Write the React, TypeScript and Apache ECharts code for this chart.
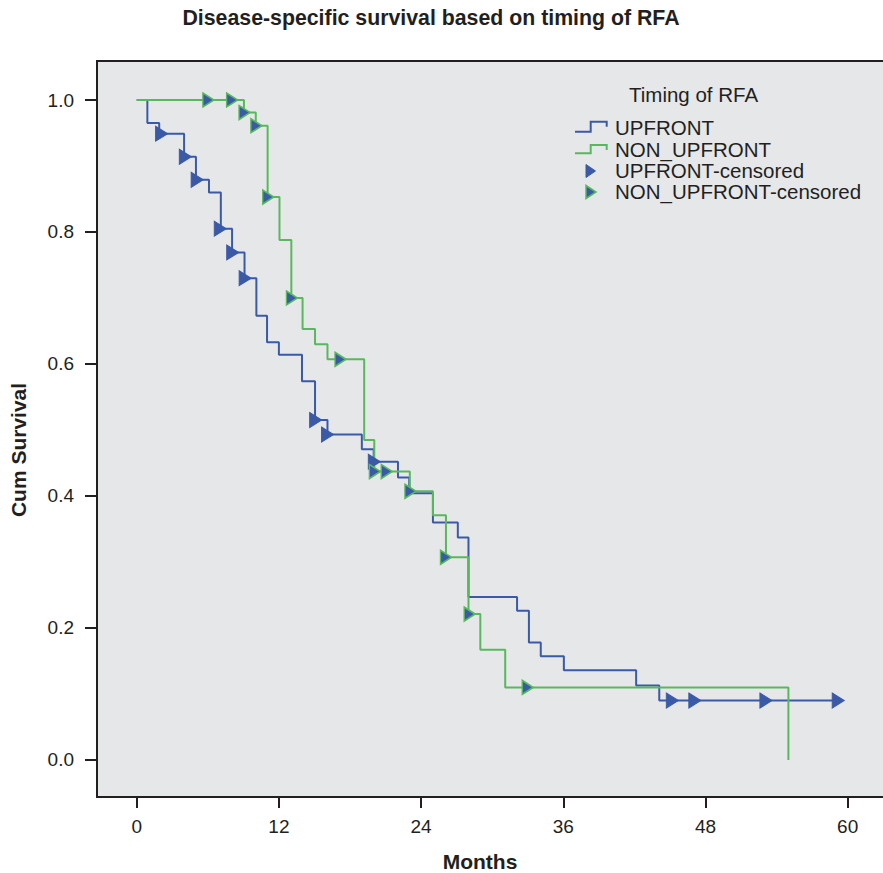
import React, { useEffect, useRef } from "react";
import * as echarts from "echarts";

// ---- Data ----
const xTicks = [0, 12, 24, 36, 48, 60];
const yTicks = [0, 0.2, 0.4, 0.6, 0.8, 1.0];

// UPFRONT step curve (time in months, cumulative survival after the step)
const upfrontTimes = [0, 0.9, 1.9, 4.0, 5.0, 6.1, 7.1, 8.05, 9.1, 10.1, 11.0, 12.0, 13.95, 15.05, 16.1, 19.0, 20.0, 22.05, 23.0, 25.0, 27.1, 28.0, 32.1, 33.1, 34.1, 36.05, 42.15, 44.1, 59.5];
const upfrontSurv = [1.0, 0.965, 0.949, 0.914, 0.879, 0.86, 0.805, 0.769, 0.73, 0.673, 0.633, 0.614, 0.574, 0.515, 0.493, 0.471, 0.452, 0.428, 0.404, 0.36, 0.337, 0.247, 0.226, 0.178, 0.157, 0.136, 0.113, 0.09, 0.09];

// NON_UPFRONT step curve
const nonUpfrontTimes = [0, 9.05, 10.05, 11.05, 12.05, 13.05, 14.0, 15.05, 16.1, 19.2, 20.05, 23.05, 25.0, 26.1, 28.0, 29.0, 31.1, 55.0];
const nonUpfrontSurv = [1.0, 0.981, 0.961, 0.853, 0.788, 0.7, 0.653, 0.63, 0.607, 0.485, 0.437, 0.407, 0.371, 0.307, 0.221, 0.167, 0.11, 0.0];

// Censored observations
const upfrontCensTimes = [2.1, 4.1, 5.1, 7.05, 8.1, 9.15, 15.1, 16.1, 20.05, 45.2, 47.1, 53.1, 59.2];
const upfrontCensSurv = [0.949, 0.914, 0.879, 0.805, 0.769, 0.73, 0.515, 0.493, 0.452, 0.09, 0.09, 0.09, 0.09];
const nonUpfrontCensTimes = [6.05, 8.05, 9.1, 10.1, 11.1, 13.1, 17.2, 20.1, 21.1, 23.1, 26.1, 28.1, 33.0];
const nonUpfrontCensSurv = [1.0, 1.0, 0.981, 0.961, 0.853, 0.7, 0.607, 0.437, 0.437, 0.407, 0.307, 0.221, 0.11];

const seriesNames = ["UPFRONT", "NON_UPFRONT", "UPFRONT-censored", "NON_UPFRONT-censored"];

const TEXT = "#231f20";
const BLUE = "#3a5aa8";
const GREEN = "#58b95c";
const FONT = "'Liberation Sans', Arial, Helvetica, sans-serif";
const TRI = "path://M0,0L10,6L0,12Z";

const zip = (a: number[], b: number[]) => a.map((v, i) => [v, b[i]]);

export default function App() {
  const ref = useRef<HTMLDivElement>(null);

  useEffect(() => {
    if (!ref.current) return;
    const chart = echarts.init(ref.current, undefined, { renderer: "svg" });

    const legendText = (text: string, x: number, y: number) => ({
      type: "text",
      x,
      y,
      style: {
        text,
        fontFamily: FONT,
        fontSize: 20.5,
        lineHeight: 18,
        fill: TEXT,
        align: "left",
        verticalAlign: "middle",
      },
    });

    const option: any = {
      animation: false,
      backgroundColor: "#ffffff",
      textStyle: { fontFamily: FONT },
      grid: {
        left: 97,
        top: 61,
        width: 790,
        height: 736,
        outerBoundsMode: "none",
        containLabel: false,
        show: true,
        backgroundColor: "#e6e7e9",
        borderColor: TEXT,
        borderWidth: 2,
      },
      xAxis: {
        type: "value",
        min: -3.35,
        max: 63.32,
        axisLine: { show: false, onZero: false },
        axisTick: {
          show: true,
          customValues: xTicks,
          length: 11,
          lineStyle: { color: TEXT, width: 2 },
        },
        axisLabel: {
          customValues: xTicks,
          color: TEXT,
          fontSize: 19,
          fontFamily: FONT,
          margin: 20,
        },
        splitLine: { show: false },
      },
      yAxis: {
        type: "value",
        min: -0.0561,
        max: 1.0591,
        axisLine: { show: false, onZero: false },
        axisTick: {
          show: true,
          customValues: yTicks,
          length: 12,
          lineStyle: { color: TEXT, width: 2 },
        },
        axisLabel: {
          customValues: yTicks,
          color: TEXT,
          fontSize: 19,
          fontFamily: FONT,
          margin: 23,
          formatter: (v: number) => v.toFixed(1),
        },
        splitLine: { show: false },
      },
      series: [
        {
          name: seriesNames[0],
          type: "line",
          step: "end",
          symbol: "none",
          data: zip(upfrontTimes, upfrontSurv),
          lineStyle: { color: BLUE, width: 2 },
          z: 2,
        },
        {
          name: seriesNames[1],
          type: "line",
          step: "end",
          symbol: "none",
          data: zip(nonUpfrontTimes, nonUpfrontSurv),
          lineStyle: { color: GREEN, width: 2 },
          z: 2,
        },
        {
          name: seriesNames[2],
          type: "scatter",
          symbol: TRI,
          symbolSize: [12, 15],
          data: zip(upfrontCensTimes, upfrontCensSurv),
          itemStyle: { color: BLUE, borderColor: BLUE, borderWidth: 1, opacity: 1 },
          z: 3,
        },
        {
          name: seriesNames[3],
          type: "scatter",
          symbol: TRI,
          symbolSize: [11, 14],
          data: zip(nonUpfrontCensTimes, nonUpfrontCensSurv),
          itemStyle: { color: BLUE, borderColor: GREEN, borderWidth: 1.5, opacity: 1 },
          z: 3,
        },
      ],
      graphic: [
        {
          type: "text",
          x: 431,
          y: 18,
          style: {
            text: "Disease-specific survival based on timing of RFA",
            fontFamily: FONT,
            fontWeight: "bold",
            fontSize: 21.3,
            fill: TEXT,
            align: "center",
            verticalAlign: "middle",
          },
        },
        {
          type: "text",
          x: 480,
          y: 861,
          style: {
            text: "Months",
            fontFamily: FONT,
            fontWeight: "bold",
            fontSize: 21,
            fill: TEXT,
            align: "center",
            verticalAlign: "middle",
          },
        },
        {
          type: "text",
          x: 18,
          y: 450,
          rotation: Math.PI / 2,
          style: {
            text: "Cum Survival",
            fontFamily: FONT,
            fontWeight: "bold",
            fontSize: 21,
            fill: TEXT,
            align: "center",
            verticalAlign: "middle",
          },
        },
        // legend
        legendText("Timing of RFA", 629, 94),
        {
          type: "polyline",
          shape: { points: [[575, 131.7], [590.7, 131.7], [590.7, 121.7], [606.7, 121.7], [606.7, 126.7]] },
          style: { stroke: BLUE, lineWidth: 2, fill: "none" },
        },
        legendText(seriesNames[0], 615, 127.5),
        {
          type: "polyline",
          shape: { points: [[575, 153.3], [590.7, 153.3], [590.7, 145], [606.7, 145], [606.7, 150]] },
          style: { stroke: GREEN, lineWidth: 2, fill: "none" },
        },
        legendText(seriesNames[1], 615, 149),
        {
          type: "polygon",
          shape: { points: [[586, 164.5], [595.5, 171], [586, 177.5]] },
          style: { fill: BLUE, stroke: BLUE, lineWidth: 1 },
        },
        legendText(seriesNames[2], 615, 170),
        {
          type: "polygon",
          shape: { points: [[586, 185.5], [596, 192], [586, 198.5]] },
          style: { fill: BLUE, stroke: GREEN, lineWidth: 1.5 },
        },
        legendText(seriesNames[3], 615, 191),
      ],
    };

    chart.setOption(option);
    return () => chart.dispose();
  }, []);

  return (
    <div
      ref={ref}
      style={{ position: "fixed", left: 0, top: 0, width: 883, height: 873 }}
    />
  );
}
